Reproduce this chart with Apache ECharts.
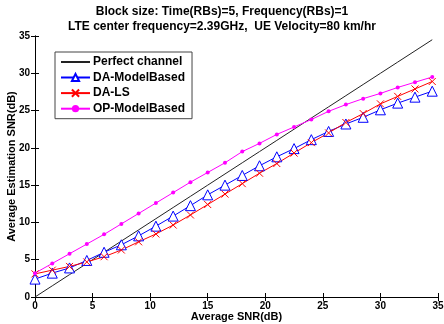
<!DOCTYPE html>
<html><head><meta charset="utf-8">
<script src="https://cdn.jsdelivr.net/npm/echarts@6/dist/echarts.min.js"></script>
<style>html,body{margin:0;padding:0;background:#fff}#c{width:444px;height:324px}</style>
</head><body><div id="c"></div>
<script>
var snr = [0,1.5,3,4.5,6,7.5,9,10.5,12,13.5,15,16.5,18,19.5,21,22.5,24,25.5,27,28.5,30,31.5,33,34.5];
var perfect = [0,1.5,3,4.5,6,7.5,9,10.5,12,13.5,15,16.5,18,19.5,21,22.5,24,25.5,27,28.5,30,31.5,33,34.5];
var daModel = [2.4,3.2,3.9,4.9,6.0,7.0,8.2,9.5,10.85,12.25,13.7,15.0,16.3,17.6,18.8,19.9,21.1,22.2,23.2,24.1,25.1,26.0,26.8,27.6];
var daLS = [3.1,3.6,4.1,4.7,5.4,6.3,7.4,8.45,9.65,11.0,12.4,13.8,15.2,16.6,17.9,19.3,20.7,22.0,23.4,24.6,25.9,26.9,27.9,28.9];
var opModel = [3.2,4.5,5.8,7.1,8.4,9.8,11.2,12.6,14.0,15.4,16.7,18.0,19.5,20.6,21.8,22.8,23.8,24.9,25.8,26.6,27.3,28.1,28.8,29.5];
var ticks = [0,5,10,15,20,25,30,35];
var names = ['Perfect channel','DA-ModelBased','DA-LS','OP-ModelBased'];

function pairs(ys){ return snr.map(function(x,i){ return [x, ys[i]]; }); }
var font = 'Liberation Sans, Arial, sans-serif';
var chart = echarts.init(document.getElementById('c'), null, {renderer:'canvas'});
var axBase = {
  type:'value', min:ticks[0], max:ticks[ticks.length-1], interval:5,
  axisLine:{show:true, lineStyle:{color:'#000', width:1}},
  axisTick:{show:true, inside:true, length:4, lineStyle:{color:'#000'}},
  splitLine:{show:false}
};
var hidden = {color:'rgba(0,0,0,0)', borderColor:'rgba(0,0,0,0)', borderWidth:0};
chart.setOption({
  animation:false,
  backgroundColor:'#fff',
  title:[
    {text:'Block size: Time(RBs)=5, Frequency(RBs)=1', left:'center', top:1,
     textStyle:{fontFamily:font, fontSize:12, fontWeight:'bold', color:'#000'}},
    {text:'LTE center frequency=2.39GHz,  UE Velocity=80 km/hr', left:'center', top:16,
     textStyle:{fontFamily:font, fontSize:12, fontWeight:'bold', color:'#000'}}
  ],
  grid:{left:35, right:6, top:36, bottom:27, containLabel:false, outerBoundsMode:'none'},
  legend:{
    orient:'vertical', left:55, top:52,
    data:[{name:names[0], itemStyle:hidden}, names[1], names[2], names[3]],
    backgroundColor:'#fff', borderColor:'#444', borderWidth:1,
    padding:[4,7,4,5], itemGap:3.5, itemWidth:29, itemHeight:9,
    textStyle:{fontFamily:font, fontSize:12, fontWeight:'bold', color:'#000', padding:[0,0,0,-2]}
  },
  xAxis:[
    Object.assign({}, axBase, {position:'bottom', name:'Average SNR(dB)', nameLocation:'middle', nameGap:14,
      nameMoveOverlap:false,
      nameTextStyle:{fontFamily:font, fontSize:11, fontWeight:'bold', color:'#000'},
      axisLabel:{fontFamily:font, fontSize:10, fontWeight:'bold', color:'#000', margin:4}}),
    Object.assign({}, axBase, {position:'top', axisLabel:{show:false}})
  ],
  yAxis:[
    Object.assign({}, axBase, {position:'left', name:'Average Estimation SNR(dB)', nameLocation:'middle', nameGap:18,
      nameMoveOverlap:false,
      nameTextStyle:{fontFamily:font, fontSize:11, fontWeight:'bold', color:'#000'},
      axisLabel:{fontFamily:font, fontSize:10, fontWeight:'bold', color:'#000', margin:5}}),
    Object.assign({}, axBase, {position:'right', axisLabel:{show:false}})
  ],
  series:[
    {name:names[0], type:'line', data:pairs(perfect), showSymbol:false, symbol:'circle', symbolSize:0,
     lineStyle:{color:'#222', width:1}, itemStyle:{color:'#222'}},
    {name:names[1], type:'line', data:pairs(daModel), symbol:'triangle', symbolSize:10,
     lineStyle:{color:'#0000ff', width:1},
     itemStyle:{color:'#fff', borderColor:'#0000ff', borderWidth:1}},
    {name:names[2], type:'line', data:pairs(daLS), symbol:'path://M0,0L10,10M10,0L0,10', symbolSize:7,
     lineStyle:{color:'#ff0000', width:1},
     itemStyle:{color:'none', borderColor:'#ff0000', borderWidth:1}},
    {name:names[3], type:'line', data:pairs(opModel), symbol:'circle', symbolSize:4,
     lineStyle:{color:'#ff00ff', width:1},
     itemStyle:{color:'#ff00ff', borderWidth:0}}
  ]
});
</script></body></html>
